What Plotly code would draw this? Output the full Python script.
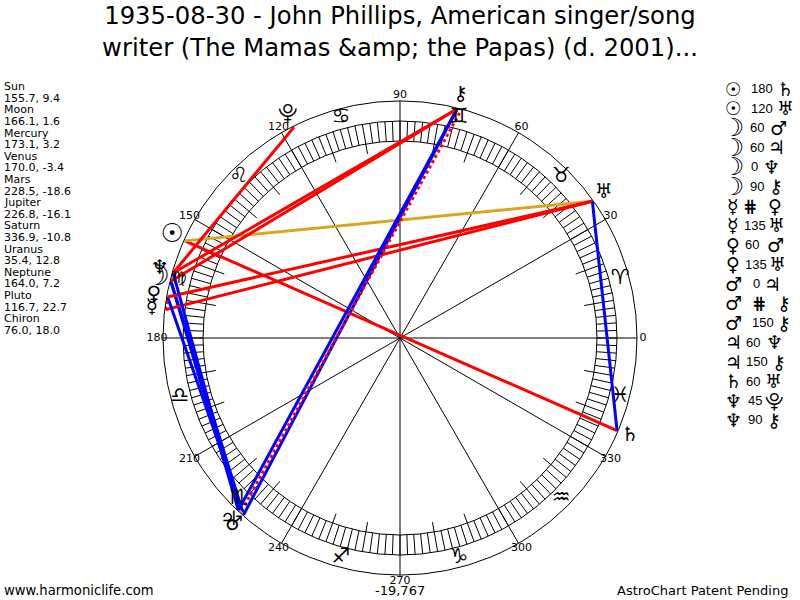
import plotly.graph_objects as go

# ---------- data ----------
planet_names = ["Sun", "Moon", "Mercury", "Venus", "Mars", "Jupiter", "Saturn", "Uranus", "Neptune", "Pluto", "Chiron"]
longitudes = [155.7, 166.1, 173.1, 170.0, 228.5, 226.8, 336.9, 35.4, 164.0, 116.7, 76.0]
latitudes = ["9.4", "1.6", "3.2", "-3.4", "-18.6", "-16.1", "-10.8", "12.8", "7.2", "22.7", "18.0"]
planet_glyphs = ["<b>☉</b>", "☽", "☿", "♀", "♂", "♃", "♄", "♅", "♆", "⯓", "⚷"]

aspect_from = ["Sun", "Sun", "Moon", "Moon", "Moon", "Moon", "Mercury", "Mercury", "Venus", "Venus", "Mars", "Mars", "Mars", "Jupiter", "Jupiter", "Saturn", "Neptune", "Neptune"]
aspect_kind = ["180", "120", "60", "60", "0", "90", "par", "135", "60", "135", "0", "par", "150", "60", "150", "60", "45", "90"]
aspect_to = ["Saturn", "Uranus", "Mars", "Jupiter", "Neptune", "Chiron", "Venus", "Uranus", "Mars", "Uranus", "Jupiter", "Chiron", "Chiron", "Neptune", "Chiron", "Uranus", "Pluto", "Chiron"]

sign_glyphs = ["♈", "♉", "♊", "♋", "♌", "♍", "♎", "♏", "♐", "♑", "♒", "♓"]
sign_angles = [15, 45, 75, 105, 135, 165, 195, 225, 255, 285, 315, 345]
degree_ticks = [0, 30, 60, 90, 120, 150, 180, 210, 240, 270, 300, 330]

title_text = "1935-08-30 - John Phillips, American singer/song<br>writer (The Mamas &amp;amp; the Papas) (d. 2001)..."
footer_left = "www.harmoniclife.com"
footer_mid = "-19,767"
footer_right = "AstroChart Patent Pending"

# ---------- styling and layout constants ----------
CX, CY, R, R2 = 400, 338, 237, 260
W, H = 800, 600
RING_IN, RING_OUT = 197, 217
R_ASPECT, R_PLANET, R_SIGN, R_DEG = 236, 250, 228, 243
BLUE, RED, GOLD = "#0000ff", "#ff0000", "#daa520"
kind_style = {
    "0": GOLD, "120": GOLD,
    "60": BLUE, "150": BLUE,
    "45": RED, "90": RED, "135": RED, "180": RED, "par": RED,
}
SANS = "DejaVu Sans"
lon = dict(zip(planet_names, longitudes))
glyph = dict(zip(planet_names, planet_glyphs))
chart_size = {"Sun": 26, "Moon": 28}
list_size = {"Sun": 19, "Moon": 25}
sign_size = {"♍": 16}

fig = go.Figure()

# ring hatching every 2 degrees, longer ticks every 10 degrees
t_th, t_r = [], []
for a in range(0, 360, 2):
    inner = 187 if a % 10 == 0 and a % 30 != 0 else RING_IN
    t_th += [a, a, None]
    t_r += [inner, RING_OUT, None]
fig.add_trace(go.Scatterpolar(theta=t_th, r=t_r, mode="lines", line=dict(color="#000", width=1), hoverinfo="skip"))

# aspect lines
order = [i for i, k in enumerate(aspect_kind) if k != "par"] + [i for i, k in enumerate(aspect_kind) if k == "par"]
for i in order:
    a, k, b = aspect_from[i], aspect_kind[i], aspect_to[i]
    par = k == "par"
    th = [lon[a], lon[b]]
    rr = [R_ASPECT, R_ASPECT]
    if par and a == "Mars":
        th, rr = [227.1, 75.0], [228, 236]
    fig.add_trace(go.Scatterpolar(
        theta=th, r=rr, mode="lines",
        line=dict(color=kind_style[k], width=3, dash="dot" if par else "solid"),
        name=f"{a} {k} {b}", hoverinfo="name"))

# glyphs and degree labels sit on a wider, invisible polar subplot with the same centre
fig.add_trace(go.Scatterpolar(subplot="polar2", theta=sign_angles, r=[R_SIGN] * 12, mode="text", text=sign_glyphs,
                              textfont=dict(family=SANS, size=[sign_size.get(s, 21) for s in sign_glyphs], color="#000"),
                              hoverinfo="skip"))
fig.add_trace(go.Scatterpolar(subplot="polar2", theta=longitudes, r=[R_PLANET] * 11, mode="text", text=planet_glyphs,
                              textfont=dict(family=SANS, size=[chart_size.get(n, 20) for n in planet_names], color="#000"),
                              hovertext=planet_names, hoverinfo="text"))
fig.add_trace(go.Scatterpolar(subplot="polar2", theta=degree_ticks, r=[R_DEG] * 12, mode="text",
                              text=[str(d) for d in degree_ticks],
                              textfont=dict(family=SANS, size=11, color="#000"), hoverinfo="skip"))

ann = []
def txt(x, y, s, size=11, anchor="left", family=SANS, color="#000"):
    ann.append(dict(x=x / W, y=1 - y / H, xref="paper", yref="paper", text=s, showarrow=False,
                    xanchor=anchor, yanchor="middle", align=anchor,
                    font=dict(family=family, size=size, color=color)))

# left list of positions
for i, n in enumerate(planet_names):
    txt(2, 86.7 + i * 23.2, n)
    txt(2, 98.3 + i * 23.2, f"{longitudes[i]:.1f}, {latitudes[i]}")

# right list of aspects
mid_x = [762, 762, 757, 757, 754, 757, 750, 755, 752, 756, 756, 759, 763, 753, 757, 753, 755, 755]
right_x = [785, 785, 778, 776, 771, 776, 775, 776, 775, 777, 772, 784, 784, 774, 779, 773, 774, 774]
for i in range(18):
    y = 89 + i * 19.47
    txt(733, y, glyph[aspect_from[i]], size=list_size.get(aspect_from[i], 19), anchor="center")
    k = aspect_kind[i]
    if k == "par":
        txt(mid_x[i], y, "<b>⋕</b>", size=17, anchor="center")
    else:
        txt(mid_x[i], y, k, size=13, anchor="center", family="Liberation Sans")
    txt(right_x[i], y, glyph[aspect_to[i]], size=19, anchor="center")

# footer
txt(2, 590, footer_left, size=13.2)
txt(400, 590, footer_mid, size=13, anchor="center")
txt(790, 590, footer_right, size=13, anchor="right")

fig.update_layout(
    width=W, height=H, margin=dict(l=0, r=0, t=0, b=0),
    paper_bgcolor="#fff", showlegend=False,
    title=dict(text=title_text, x=0.5, xanchor="center", xref="paper", y=0.96, yanchor="top",
               font=dict(family=SANS, size=24.3, color="#000")),
    annotations=ann,
    polar=dict(
        bgcolor="#fff",
        domain=dict(x=[(CX - R) / W, (CX + R) / W], y=[(H - CY - R) / H, (H - CY + R) / H]),
        radialaxis=dict(range=[0, R], tickvals=[RING_IN, RING_OUT], showticklabels=False, ticks="",
                        showline=False, showgrid=True, gridcolor="#000", gridwidth=1),
        angularaxis=dict(direction="counterclockwise", rotation=0, tickmode="array",
                         tickvals=degree_ticks, ticks="", showline=True, linecolor="#000",
                         linewidth=1, showgrid=True, gridcolor="#000", gridwidth=1,
                         showticklabels=False),
    ),
    polar2=dict(
        bgcolor="rgba(0,0,0,0)",
        domain=dict(x=[(CX - R2) / W, (CX + R2) / W], y=[(H - CY - R2) / H, (H - CY + R2) / H]),
        radialaxis=dict(range=[0, R2], visible=False),
        angularaxis=dict(direction="counterclockwise", rotation=0, visible=False),
    ),
)
fig.write_html("out.html", config=dict(displayModeBar=False),
               post_script="document.body.style.margin='0';document.documentElement.style.overflow='hidden';")
